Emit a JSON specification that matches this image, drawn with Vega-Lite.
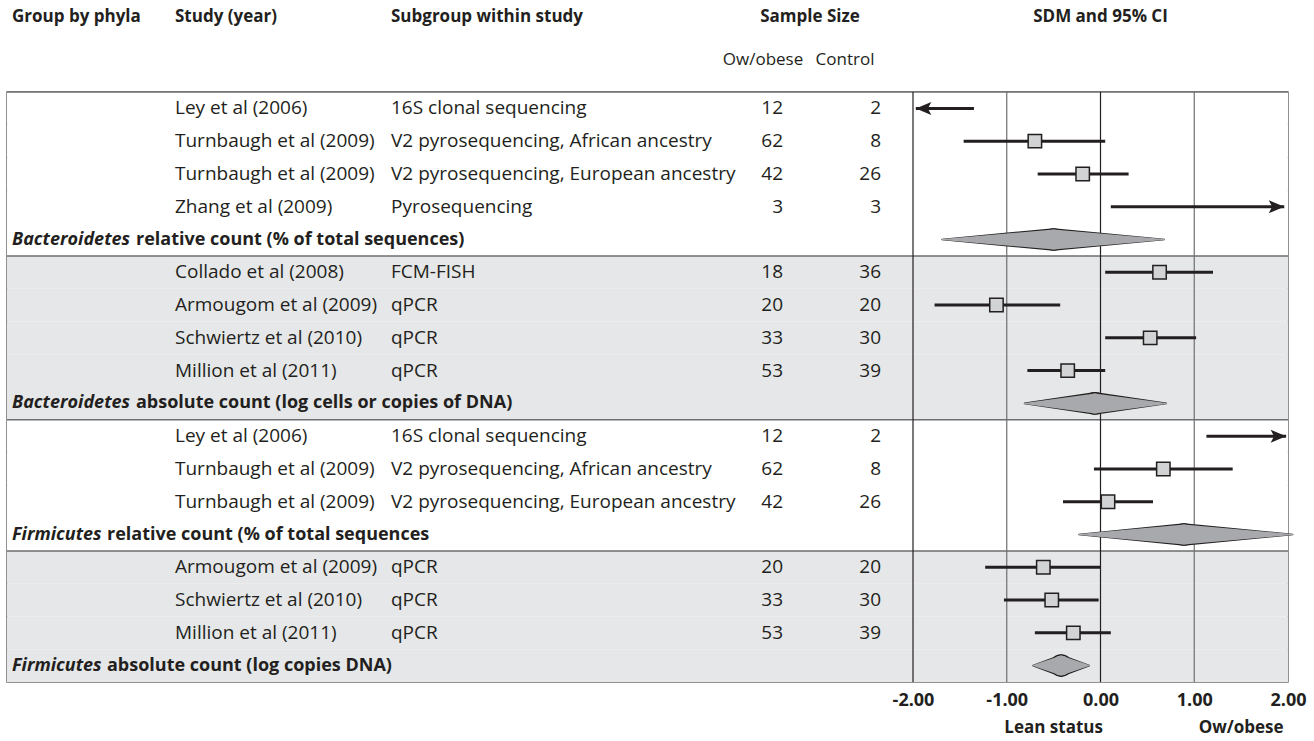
{
  "$schema": "https://vega.github.io/schema/vega-lite/v6.json",
  "width": 1281,
  "height": 590,
  "autosize": {"type": "none"},
  "padding": {"left": 7, "top": 92, "right": 26, "bottom": 59},
  "background": "#ffffff",
  "config": {
    "view": {"stroke": "#6d6e71", "strokeWidth": 1.5},
    "font": "Open Sans"
  },
  "datasets": {
    "rows": [
      {"idx": 0, "group": "Bacteroidetes relative", "phylum": "Bacteroidetes", "count": "relative", "kind": "study", "study": "Ley et al (2006)", "subgroup": "16S clonal sequencing", "n_obese": 12, "n_control": 2, "lo": -1.97, "est": null, "hi": -1.35, "beyond": "left"},
      {"idx": 1, "group": "Bacteroidetes relative", "phylum": "Bacteroidetes", "count": "relative", "kind": "study", "study": "Turnbaugh et al (2009)", "subgroup": "V2 pyrosequencing, African ancestry", "n_obese": 62, "n_control": 8, "lo": -1.46, "est": -0.70, "hi": 0.05},
      {"idx": 2, "group": "Bacteroidetes relative", "phylum": "Bacteroidetes", "count": "relative", "kind": "study", "study": "Turnbaugh et al (2009)", "subgroup": "V2 pyrosequencing, European ancestry", "n_obese": 42, "n_control": 26, "lo": -0.67, "est": -0.19, "hi": 0.30},
      {"idx": 3, "group": "Bacteroidetes relative", "phylum": "Bacteroidetes", "count": "relative", "kind": "study", "study": "Zhang et al (2009)", "subgroup": "Pyrosequencing", "n_obese": 3, "n_control": 3, "lo": 0.11, "est": null, "hi": 1.96, "beyond": "right"},
      {"idx": 4, "group": "Bacteroidetes relative", "phylum": "Bacteroidetes", "count": "relative", "kind": "summary", "measure": "relative count (% of total sequences)", "lo": -1.69, "est": -0.50, "hi": 0.68},
      {"idx": 5, "group": "Bacteroidetes absolute", "phylum": "Bacteroidetes", "count": "absolute", "kind": "study", "study": "Collado et al (2008)", "subgroup": "FCM-FISH", "n_obese": 18, "n_control": 36, "lo": 0.05, "est": 0.63, "hi": 1.20},
      {"idx": 6, "group": "Bacteroidetes absolute", "phylum": "Bacteroidetes", "count": "absolute", "kind": "study", "study": "Armougom et al (2009)", "subgroup": "qPCR", "n_obese": 20, "n_control": 20, "lo": -1.77, "est": -1.11, "hi": -0.43},
      {"idx": 7, "group": "Bacteroidetes absolute", "phylum": "Bacteroidetes", "count": "absolute", "kind": "study", "study": "Schwiertz et al (2010)", "subgroup": "qPCR", "n_obese": 33, "n_control": 30, "lo": 0.05, "est": 0.53, "hi": 1.02},
      {"idx": 8, "group": "Bacteroidetes absolute", "phylum": "Bacteroidetes", "count": "absolute", "kind": "study", "study": "Million et al (2011)", "subgroup": "qPCR", "n_obese": 53, "n_control": 39, "lo": -0.78, "est": -0.35, "hi": 0.05},
      {"idx": 9, "group": "Bacteroidetes absolute", "phylum": "Bacteroidetes", "count": "absolute", "kind": "summary", "measure": "absolute count (log cells or copies of DNA)", "lo": -0.81, "est": -0.06, "hi": 0.70},
      {"idx": 10, "group": "Firmicutes relative", "phylum": "Firmicutes", "count": "relative", "kind": "study", "study": "Ley et al (2006)", "subgroup": "16S clonal sequencing", "n_obese": 12, "n_control": 2, "lo": 1.13, "est": null, "hi": 1.98, "beyond": "right"},
      {"idx": 11, "group": "Firmicutes relative", "phylum": "Firmicutes", "count": "relative", "kind": "study", "study": "Turnbaugh et al (2009)", "subgroup": "V2 pyrosequencing, African ancestry", "n_obese": 62, "n_control": 8, "lo": -0.07, "est": 0.67, "hi": 1.41},
      {"idx": 12, "group": "Firmicutes relative", "phylum": "Firmicutes", "count": "relative", "kind": "study", "study": "Turnbaugh et al (2009)", "subgroup": "V2 pyrosequencing, European ancestry", "n_obese": 42, "n_control": 26, "lo": -0.40, "est": 0.08, "hi": 0.56},
      {"idx": 13, "group": "Firmicutes relative", "phylum": "Firmicutes", "count": "relative", "kind": "summary", "measure": "relative count (% of total sequences", "lo": -0.23, "est": 0.89, "hi": 2.05},
      {"idx": 14, "group": "Firmicutes absolute", "phylum": "Firmicutes", "count": "absolute", "kind": "study", "study": "Armougom et al (2009)", "subgroup": "qPCR", "n_obese": 20, "n_control": 20, "lo": -1.23, "est": -0.61, "hi": 0.00},
      {"idx": 15, "group": "Firmicutes absolute", "phylum": "Firmicutes", "count": "absolute", "kind": "study", "study": "Schwiertz et al (2010)", "subgroup": "qPCR", "n_obese": 33, "n_control": 30, "lo": -1.03, "est": -0.52, "hi": -0.02},
      {"idx": 16, "group": "Firmicutes absolute", "phylum": "Firmicutes", "count": "absolute", "kind": "study", "study": "Million et al (2011)", "subgroup": "qPCR", "n_obese": 53, "n_control": 39, "lo": -0.70, "est": -0.29, "hi": 0.11},
      {"idx": 17, "group": "Firmicutes absolute", "phylum": "Firmicutes", "count": "absolute", "kind": "summary", "measure": "absolute count (log copies DNA)", "lo": -0.72, "est": -0.42, "hi": -0.12}
    ]
  },
  "resolve": {"scale": {"x": "independent"}},
  "layer": [
    {
      "data": {"name": "rows"},
      "layer": [
        {
          "mark": {"type": "rect"},
          "encoding": {
            "y": {"field": "idx", "type": "ordinal", "scale": {"type": "band", "domain": [0,1,2,3,4,5,6,7,8,9,10,11,12,13,14,15,16,17], "paddingInner": 0, "paddingOuter": 0}, "axis": null},
            "fill": {"field": "count", "type": "nominal", "scale": {"domain": ["relative", "absolute"], "range": ["#ffffff", "#e6e7e8"]}, "legend": null}
          }
        },
        {
          "transform": [{"aggregate": [{"op": "min", "field": "idx", "as": "first"}], "groupby": ["group"]}],
          "mark": {"type": "rule", "color": "#6d6e71", "strokeWidth": 1.5},
          "encoding": {
            "y": {"field": "first", "type": "ordinal", "bandPosition": 0, "scale": {"type": "band", "domain": [0,1,2,3,4,5,6,7,8,9,10,11,12,13,14,15,16,17], "paddingInner": 0, "paddingOuter": 0}, "axis": null}
          }
        }
      ]
    },
    {
      "resolve": {"scale": {"size": "independent"}},
      "layer": [
        {
          "data": {"values": [{"ref": -2}, {"ref": 0}]},
          "mark": {"type": "rule", "color": "#231f20", "strokeWidth": 1.2},
          "encoding": {
            "x": {"field": "ref", "type": "quantitative", "scale": {"domain": [-2, 2], "range": [906, 1281], "zero": false, "nice": false},
              "axis": {"orient": "bottom", "values": [-2, -1, 0, 1, 2], "labelExpr": "(datum.value < 0 ? '-' : '') + format(abs(datum.value), '.2f')", "labelFont": "Open Sans", "labelFontSize": 18, "labelFontWeight": "bold", "labelColor": "#231f20", "labelPadding": 9, "labelFlush": false, "labelOverlap": false, "domain": false, "ticks": false, "grid": false, "title": null}}
          }
        },
        {
          "data": {"values": [{"ref": -1}, {"ref": 1}]},
          "mark": {"type": "rule", "color": "#6d6e71", "strokeWidth": 1.2},
          "encoding": {"x": {"field": "ref", "type": "quantitative"}}
        },
        {
          "data": {"name": "rows"},
          "transform": [{"filter": "datum.kind === 'study'"}],
          "mark": {"type": "rule", "color": "#231f20", "strokeWidth": 3},
          "encoding": {
            "x": {"field": "lo", "type": "quantitative"},
            "x2": {"field": "hi"},
            "y": {"field": "idx", "type": "ordinal", "scale": {"type": "band", "domain": [0,1,2,3,4,5,6,7,8,9,10,11,12,13,14,15,16,17], "paddingInner": 0, "paddingOuter": 0}, "axis": null}
          }
        },
        {
          "data": {"name": "rows"},
          "transform": [{"filter": "datum.kind === 'study' && isValid(datum.est)"}],
          "mark": {"type": "point", "shape": "square", "size": 180, "filled": true, "fill": "#d1d3d4", "stroke": "#231f20", "strokeWidth": 1.5, "opacity": 1},
          "encoding": {
            "x": {"field": "est", "type": "quantitative"},
            "y": {"field": "idx", "type": "ordinal", "scale": {"type": "band", "domain": [0,1,2,3,4,5,6,7,8,9,10,11,12,13,14,15,16,17], "paddingInner": 0, "paddingOuter": 0}, "axis": null}
          }
        },
        {
          "data": {"name": "rows"},
          "transform": [{"filter": "datum.beyond === 'left'"}],
          "mark": {"type": "point", "shape": "M0,0L1,-0.42L0.78,0L1,0.42Z", "size": 960, "filled": true, "fill": "#231f20", "strokeWidth": 0, "opacity": 1},
          "encoding": {
            "x": {"field": "lo", "type": "quantitative"},
            "y": {"field": "idx", "type": "ordinal", "scale": {"type": "band", "domain": [0,1,2,3,4,5,6,7,8,9,10,11,12,13,14,15,16,17], "paddingInner": 0, "paddingOuter": 0}, "axis": null}
          }
        },
        {
          "data": {"name": "rows"},
          "transform": [{"filter": "datum.beyond === 'right'"}],
          "mark": {"type": "point", "shape": "M0,0L-1,-0.42L-0.78,0L-1,0.42Z", "size": 960, "filled": true, "fill": "#231f20", "strokeWidth": 0, "opacity": 1},
          "encoding": {
            "x": {"field": "hi", "type": "quantitative"},
            "y": {"field": "idx", "type": "ordinal", "scale": {"type": "band", "domain": [0,1,2,3,4,5,6,7,8,9,10,11,12,13,14,15,16,17], "paddingInner": 0, "paddingOuter": 0}, "axis": null}
          }
        },
        {
          "data": {"name": "rows"},
          "transform": [{"filter": "datum.kind === 'summary'"}, {"fold": ["lo", "est"], "as": ["vertex", "sdm"]}],
          "mark": {"type": "trail", "color": "#231f20"},
          "encoding": {
            "x": {"field": "sdm", "type": "quantitative"},
            "y": {"field": "idx", "type": "ordinal", "scale": {"type": "band", "domain": [0,1,2,3,4,5,6,7,8,9,10,11,12,13,14,15,16,17], "paddingInner": 0, "paddingOuter": 0}, "axis": null},
            "detail": {"field": "idx", "type": "nominal"},
            "size": {"field": "vertex", "type": "ordinal", "scale": {"type": "point", "domain": ["lo", "est"], "range": [1.6, 22.6], "padding": 0}, "legend": null}
          }
        },
        {
          "data": {"name": "rows"},
          "transform": [{"filter": "datum.kind === 'summary'"}, {"fold": ["est", "hi"], "as": ["vertex", "sdm"]}],
          "mark": {"type": "trail", "color": "#231f20"},
          "encoding": {
            "x": {"field": "sdm", "type": "quantitative"},
            "y": {"field": "idx", "type": "ordinal", "scale": {"type": "band", "domain": [0,1,2,3,4,5,6,7,8,9,10,11,12,13,14,15,16,17], "paddingInner": 0, "paddingOuter": 0}, "axis": null},
            "detail": {"field": "idx", "type": "nominal"},
            "size": {"field": "vertex", "type": "ordinal", "scale": {"type": "point", "domain": ["hi", "est"], "range": [1.6, 22.6], "padding": 0}, "legend": null}
          }
        },
        {
          "data": {"name": "rows"},
          "transform": [{"filter": "datum.kind === 'summary'"}, {"fold": ["lo", "est"], "as": ["vertex", "sdm"]}],
          "mark": {"type": "trail", "color": "#a7a9ac"},
          "encoding": {
            "x": {"field": "sdm", "type": "quantitative"},
            "y": {"field": "idx", "type": "ordinal", "scale": {"type": "band", "domain": [0,1,2,3,4,5,6,7,8,9,10,11,12,13,14,15,16,17], "paddingInner": 0, "paddingOuter": 0}, "axis": null},
            "detail": {"field": "idx", "type": "nominal"},
            "size": {"field": "vertex", "type": "ordinal", "scale": {"type": "point", "domain": ["lo", "est"], "range": [0, 20], "padding": 0}, "legend": null}
          }
        },
        {
          "data": {"name": "rows"},
          "transform": [{"filter": "datum.kind === 'summary'"}, {"fold": ["est", "hi"], "as": ["vertex", "sdm"]}],
          "mark": {"type": "trail", "color": "#a7a9ac"},
          "encoding": {
            "x": {"field": "sdm", "type": "quantitative"},
            "y": {"field": "idx", "type": "ordinal", "scale": {"type": "band", "domain": [0,1,2,3,4,5,6,7,8,9,10,11,12,13,14,15,16,17], "paddingInner": 0, "paddingOuter": 0}, "axis": null},
            "detail": {"field": "idx", "type": "nominal"},
            "size": {"field": "vertex", "type": "ordinal", "scale": {"type": "point", "domain": ["hi", "est"], "range": [0, 20], "padding": 0}, "legend": null}
          }
        },
        {
          "data": {"values": [{"label": "SDM and 95% CI"}]},
          "mark": {"type": "text", "font": "Open Sans", "fontSize": 17, "fontWeight": "bold", "fill": "#231f20", "align": "center", "baseline": "middle", "dy": -91},
          "encoding": {
            "x": {"datum": 0, "type": "quantitative"},
            "y": {"datum": 0, "type": "ordinal", "scale": {"type": "band", "domain": [0,1,2,3,4,5,6,7,8,9,10,11,12,13,14,15,16,17], "paddingInner": 0, "paddingOuter": 0}, "axis": null},
            "text": {"field": "label"}
          }
        },
        {
          "data": {"values": [{"label": "Lean status"}]},
          "mark": {"type": "text", "font": "Open Sans", "fontSize": 17, "fontWeight": "bold", "fill": "#231f20", "align": "center", "baseline": "middle", "dy": 62},
          "encoding": {
            "x": {"datum": -0.5, "type": "quantitative"},
            "y": {"datum": 17, "type": "ordinal", "scale": {"type": "band", "domain": [0,1,2,3,4,5,6,7,8,9,10,11,12,13,14,15,16,17], "paddingInner": 0, "paddingOuter": 0}, "axis": null},
            "text": {"field": "label"}
          }
        },
        {
          "data": {"values": [{"label": "Ow/obese"}]},
          "mark": {"type": "text", "font": "Open Sans", "fontSize": 17, "fontWeight": "bold", "fill": "#231f20", "align": "center", "baseline": "middle", "dy": 62},
          "encoding": {
            "x": {"datum": 1.5, "type": "quantitative"},
            "y": {"datum": 17, "type": "ordinal", "scale": {"type": "band", "domain": [0,1,2,3,4,5,6,7,8,9,10,11,12,13,14,15,16,17], "paddingInner": 0, "paddingOuter": 0}, "axis": null},
            "text": {"field": "label"}
          }
        }
      ]
    },
    {
      "layer": [
        {
          "data": {"name": "rows"},
          "transform": [{"filter": "datum.kind === 'summary'"}],
          "mark": {"type": "text", "font": "Open Sans", "fontSize": 18, "fontWeight": "bold", "fontStyle": "italic", "fill": "#231f20", "align": "left", "baseline": "middle"},
          "encoding": {
            "x": {"datum": "group", "type": "nominal", "scale": {"type": "point", "domain": ["group"], "range": [5, 5]}, "axis": null},
            "y": {"field": "idx", "type": "ordinal", "scale": {"type": "band", "domain": [0,1,2,3,4,5,6,7,8,9,10,11,12,13,14,15,16,17], "paddingInner": 0, "paddingOuter": 0}, "axis": null},
            "text": {"field": "phylum"}
          }
        },
        {
          "data": {"name": "rows"},
          "transform": [{"filter": "datum.kind === 'summary' && datum.phylum === 'Bacteroidetes'"}],
          "mark": {"type": "text", "font": "Open Sans", "fontSize": 18, "fontWeight": "bold", "fill": "#231f20", "align": "left", "baseline": "middle", "dx": 124},
          "encoding": {
            "x": {"datum": "group", "type": "nominal"},
            "y": {"field": "idx", "type": "ordinal", "scale": {"type": "band", "domain": [0,1,2,3,4,5,6,7,8,9,10,11,12,13,14,15,16,17], "paddingInner": 0, "paddingOuter": 0}, "axis": null},
            "text": {"field": "measure"}
          }
        },
        {
          "data": {"name": "rows"},
          "transform": [{"filter": "datum.kind === 'summary' && datum.phylum === 'Firmicutes'"}],
          "mark": {"type": "text", "font": "Open Sans", "fontSize": 18, "fontWeight": "bold", "fill": "#231f20", "align": "left", "baseline": "middle", "dx": 95},
          "encoding": {
            "x": {"datum": "group", "type": "nominal"},
            "y": {"field": "idx", "type": "ordinal", "scale": {"type": "band", "domain": [0,1,2,3,4,5,6,7,8,9,10,11,12,13,14,15,16,17], "paddingInner": 0, "paddingOuter": 0}, "axis": null},
            "text": {"field": "measure"}
          }
        },
        {
          "data": {"values": [{"label": "Group by phyla"}]},
          "mark": {"type": "text", "font": "Open Sans", "fontSize": 17, "fontWeight": "bold", "fill": "#231f20", "align": "left", "baseline": "middle", "dy": -91},
          "encoding": {
            "x": {"datum": "group", "type": "nominal"},
            "y": {"datum": 0, "type": "ordinal", "scale": {"type": "band", "domain": [0,1,2,3,4,5,6,7,8,9,10,11,12,13,14,15,16,17], "paddingInner": 0, "paddingOuter": 0}, "axis": null},
            "text": {"field": "label"}
          }
        }
      ]
    },
    {
      "layer": [
        {
          "data": {"name": "rows"},
          "transform": [{"filter": "datum.kind === 'study'"}, {"fold": ["study", "subgroup"], "as": ["column", "entry"]}],
          "mark": {"type": "text", "font": "Open Sans", "fontSize": 19, "fill": "#231f20", "align": "left", "baseline": "middle"},
          "encoding": {
            "x": {"field": "column", "type": "nominal", "scale": {"type": "point", "domain": ["study", "subgroup"], "range": [168, 384], "padding": 0}, "axis": null},
            "y": {"field": "idx", "type": "ordinal", "scale": {"type": "band", "domain": [0,1,2,3,4,5,6,7,8,9,10,11,12,13,14,15,16,17], "paddingInner": 0, "paddingOuter": 0}, "axis": null},
            "text": {"field": "entry"}
          }
        },
        {
          "data": {"values": [{"column": "study", "label": "Study (year)"}, {"column": "subgroup", "label": "Subgroup within study"}]},
          "mark": {"type": "text", "font": "Open Sans", "fontSize": 17, "fontWeight": "bold", "fill": "#231f20", "align": "left", "baseline": "middle", "dy": -91},
          "encoding": {
            "x": {"field": "column", "type": "nominal"},
            "y": {"datum": 0, "type": "ordinal", "scale": {"type": "band", "domain": [0,1,2,3,4,5,6,7,8,9,10,11,12,13,14,15,16,17], "paddingInner": 0, "paddingOuter": 0}, "axis": null},
            "text": {"field": "label"}
          }
        }
      ]
    },
    {
      "layer": [
        {
          "data": {"name": "rows"},
          "transform": [{"filter": "datum.kind === 'study'"}, {"fold": ["n_obese", "n_control"], "as": ["column", "n"]}],
          "mark": {"type": "text", "font": "Open Sans", "fontSize": 19, "fill": "#231f20", "align": "right", "baseline": "middle"},
          "encoding": {
            "x": {"field": "column", "type": "nominal", "scale": {"type": "point", "domain": ["n_obese", "n_control"], "range": [776, 874], "padding": 0}, "axis": null},
            "y": {"field": "idx", "type": "ordinal", "scale": {"type": "band", "domain": [0,1,2,3,4,5,6,7,8,9,10,11,12,13,14,15,16,17], "paddingInner": 0, "paddingOuter": 0}, "axis": null},
            "text": {"field": "n", "type": "nominal"}
          }
        }
      ]
    },
    {
      "layer": [
        {
          "data": {"values": [{"label": "Sample Size"}]},
          "mark": {"type": "text", "font": "Open Sans", "fontSize": 17, "fontWeight": "bold", "fill": "#231f20", "align": "center", "baseline": "middle", "dy": -91, "dx": 6},
          "encoding": {
            "x": {"field": "label", "type": "nominal", "scale": {"type": "point", "domain": ["Ow/obese", "Sample Size", "Control"], "range": [756, 838], "padding": 0}, "axis": null},
            "y": {"datum": 0, "type": "ordinal", "scale": {"type": "band", "domain": [0,1,2,3,4,5,6,7,8,9,10,11,12,13,14,15,16,17], "paddingInner": 0, "paddingOuter": 0}, "axis": null},
            "text": {"field": "label"}
          }
        },
        {
          "data": {"values": [{"label": "Ow/obese"}, {"label": "Control"}]},
          "mark": {"type": "text", "font": "Open Sans", "fontSize": 17, "fill": "#231f20", "align": "center", "baseline": "middle", "dy": -48},
          "encoding": {
            "x": {"field": "label", "type": "nominal"},
            "y": {"datum": 0, "type": "ordinal", "scale": {"type": "band", "domain": [0,1,2,3,4,5,6,7,8,9,10,11,12,13,14,15,16,17], "paddingInner": 0, "paddingOuter": 0}, "axis": null},
            "text": {"field": "label"}
          }
        }
      ]
    }
  ]
}
